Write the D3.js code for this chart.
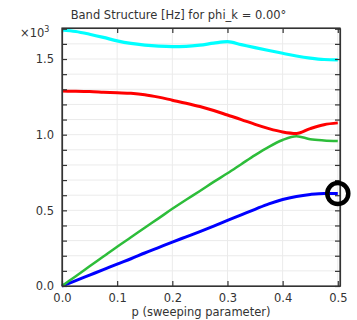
<!DOCTYPE html>
<html><head><meta charset="utf-8">
<script src="https://cdn.jsdelivr.net/npm/d3@7"></script>
<style>body{margin:0;background:#fff}svg{display:block}text{font-family:"DejaVu Sans",sans-serif;fill:#333}</style>
</head><body><svg id="c" width="357" height="320"></svg>
<script>
const pValues = [0,0.025,0.05,0.075,0.1,0.125,0.15,0.175,0.2,0.225,0.25,0.275,0.3,0.325,0.35,0.375,0.4,0.425,0.45,0.475,0.5];
const band1 = [0,0.036,0.072,0.108,0.145,0.18,0.218,0.254,0.29,0.325,0.36,0.396,0.433,0.47,0.507,0.543,0.572,0.592,0.605,0.612,0.611];
const band2 = [0,0.065,0.13,0.195,0.26,0.322,0.385,0.447,0.51,0.57,0.628,0.688,0.745,0.805,0.865,0.92,0.965,0.99,0.97,0.962,0.958];
const band3 = [1.288,1.287,1.285,1.281,1.277,1.273,1.264,1.248,1.228,1.208,1.186,1.16,1.13,1.1,1.068,1.04,1.018,1.008,1.04,1.066,1.078];
const band4 = [1.692,1.682,1.664,1.643,1.62,1.603,1.592,1.585,1.582,1.584,1.592,1.605,1.615,1.595,1.575,1.556,1.538,1.52,1.506,1.497,1.495];
const bandColors = ["#0000ff","#2dbd3a","#ff0000","#00ffff"];
const xTicks = [0,0.1,0.2,0.3,0.4,0.5];
const yMajor = [0,0.5,1.0,1.5];
const yMinor = d3.range(0,1.71,0.1).map(v=>+v.toFixed(1));
const marker = {p:0.5, v:0.611};
const title = "Band Structure [Hz] for phi_k = 0.00°";
const xLabel = "p (sweeping parameter)";

const svg = d3.select("#c");
const L=62,R=340,T=28,B=286;
const x = d3.scaleLinear().domain([0,0.504]).range([L,R]);
const y = d3.scaleLinear().domain([0,1.705]).range([B,T]);

// grid
svg.append("g").selectAll("line").data(xTicks).join("line")
 .attr("x1",d=>x(d)).attr("x2",d=>x(d)).attr("y1",T).attr("y2",B)
 .attr("stroke","#ebebeb").attr("stroke-width",1);
svg.append("g").selectAll("line").data(yMinor).join("line")
 .attr("x1",L).attr("x2",R).attr("y1",d=>y(d)).attr("y2",d=>y(d))
 .attr("stroke","#ebebeb").attr("stroke-width",1);

// lines
const bands=[band1,band2,band3,band4];
const line = d3.line().x((d,i)=>x(pValues[i])).y(d=>y(d)).curve(d3.curveMonotoneX);
const widths=[3,2.5,3,3.2];
bands.forEach((b,i)=>{
  svg.append("path").datum(b).attr("d",line).attr("fill","none")
   .attr("stroke",bandColors[i]).attr("stroke-width",widths[i]).attr("stroke-linejoin","round");
});

// frame
svg.append("rect").attr("x",L).attr("y",T).attr("width",R-L).attr("height",B-T)
 .attr("fill","none").attr("stroke","#333").attr("stroke-width",1.2);

// axes with inward ticks
const axB = d3.axisBottom(x).tickValues(xTicks).tickFormat(d3.format(".1f")).tickSizeInner(-5).tickSizeOuter(0).tickPadding(8);
const gB = svg.append("g").attr("transform",`translate(0,${B})`).call(axB);
const axT = d3.axisTop(x).tickValues(xTicks).tickFormat("").tickSizeInner(-5).tickSizeOuter(0);
const gT = svg.append("g").attr("transform",`translate(0,${T})`).call(axT);
const axL = d3.axisLeft(y).tickValues(yMinor).tickFormat(d=>yMajor.includes(d)?d3.format(".1f")(d):"").tickSizeInner(-5).tickSizeOuter(0).tickPadding(8);
const gL = svg.append("g").attr("transform",`translate(${L},0)`).call(axL);
const axR = d3.axisRight(y).tickValues(yMinor).tickFormat("").tickSizeInner(-5).tickSizeOuter(0);
const gR = svg.append("g").attr("transform",`translate(${R},0)`).call(axR);
[gB,gT,gL,gR].forEach(g=>{
  g.select(".domain").attr("stroke","#333").attr("stroke-width",1.2);
  g.selectAll(".tick line").attr("stroke","#333").attr("stroke-width",1.2);
  g.selectAll("text").attr("font-size",11.5).attr("fill","#333").style("font-family","DejaVu Sans, sans-serif");
});

// marker
svg.append("circle").attr("cx",x(marker.p)).attr("cy",y(marker.v)).attr("r",10.5)
 .attr("fill","none").attr("stroke","#000").attr("stroke-width",4.5);

// texts
svg.append("text").attr("x",178.5).attr("y",19).attr("text-anchor","middle").attr("font-size",11.5).text(title);
svg.append("text").attr("x",(L+R)/2).attr("y",316).attr("text-anchor","middle").attr("font-size",11.5).text(xLabel);
const sx = svg.append("text").attr("x",20).attr("y",37).attr("font-size",11.5);
sx.append("tspan").text("×10");
sx.append("tspan").attr("font-size",8).attr("dy",-5).text("3");
</script></body></html>
